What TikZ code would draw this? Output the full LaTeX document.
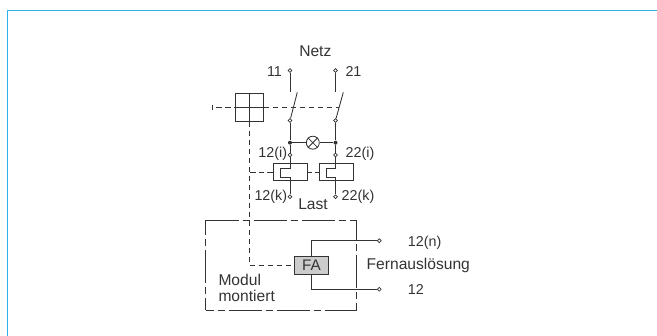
\documentclass[tikz,border=0pt]{standalone}
\usepackage{fontspec}
\setmainfont{Liberation Sans}
\definecolor{frameblue}{HTML}{2DB4E8}
\definecolor{inkc}{HTML}{333333}
\definecolor{fagray}{HTML}{CCCCCC}
\tikzset{x=1pt,y=-1pt,
 wire/.style={draw=inkc,line width=0.85pt},
 ctl/.style={draw=inkc,line width=0.85pt,dash pattern=on 5.5pt off 3.5pt},
 modbox/.style={draw=inkc,line width=0.85pt,dash pattern=on 33pt off 4pt on 7pt off 4pt},
 term/.style={circle,draw=inkc,fill=white,line width=0.7pt,inner sep=0pt,minimum size=3.8pt},
 junct/.style={circle,fill=inkc,inner sep=0pt,minimum size=4pt},
 lab/.style={inner sep=0pt,text=inkc,anchor=base,font=\fontsize{15.6}{17}\selectfont},
 labl/.style={lab,anchor=base west},
 numl/.style={inner sep=0pt,text=inkc,anchor=base,font=\fontsize{14.3}{17}\selectfont},
 relay/.style={draw=inkc,line width=0.85pt,minimum width=34pt,minimum height=17.4pt,inner sep=0pt},
}
\begin{document}
\begin{tikzpicture}
\useasboundingbox (0,0) rectangle (657,336);
\draw[frameblue,line width=1.4pt] (7.5,336) -- (7.5,10.5) -- (657,10.5);
% labels
\node[lab] (lnetz) at (315.3,56.5) {Netz};
\node[numl] (l11) at (274.5,77) {11};
\node[numl] (l21) at (353.5,77) {21};
\node[numl] (l12i) at (272.8,158) {12(i)};
\node[numl] (l22i) at (360,158) {22(i)};
\node[numl] (l12k) at (270.8,200.5) {12(k)};
\node[numl] (l22k) at (358,200.5) {22(k)};
\node[lab] (llast) at (313,209.5) {Last};
\node[labl] (lmod) at (218.3,285.5) {Modul};
\node[labl] (lmon) at (218.3,301.5) {montiert};
\node[numl,anchor=base west] (l12n) at (407.7,246.5) {12(n)};
\node[labl] (lfern) at (366.5,269.5) {Fernauslösung};
\node[numl,anchor=base west] (l12) at (407.7,295) {12};
% terminals
\node[term] (t11) at (290,70.5) {};
\node[term] (t21) at (335.5,70.5) {};
\node[term] (s1) at (290,120.5) {};
\node[term] (s2) at (335.5,120.5) {};
\node[term] (i1) at (290,155) {};
\node[term] (i2) at (335.5,155) {};
\node[term] (k1) at (290,196.7) {};
\node[term] (k2) at (335.5,196.7) {};
\node[junct] (j1) at (290,142.7) {};
\node[junct] (j2) at (335.5,142.7) {};
\node[circle,draw=inkc,line width=0.85pt,minimum size=13pt,inner sep=0pt] (lamp) at (312.8,142.7) {};
\draw[wire] (lamp.north west) -- (lamp.south east) (lamp.north east) -- (lamp.south west);
\coordinate (o1) at (290,92);
\coordinate (o2) at (335.5,92);
\coordinate (b1) at (297.3,92.3);
\coordinate (b2) at (343.3,92.3);
% switch wires
\draw[wire] (t11) -- (o1);
\draw[wire] (t21) -- (o2);
\draw[wire] (s1) -- (b1);
\draw[wire] (s2) -- (b2);
\draw[wire] (s1) -- (j1) -- (i1);
\draw[wire] (s2) -- (j2) -- (i2);
\draw[wire] (j1) -- (lamp) (lamp) -- (j2);
% handle box
\node[draw=inkc,line width=0.85pt,minimum width=27.6pt,minimum height=27.4pt,inner sep=0pt] (h) at (249.5,107.5) {};
\draw[wire] (h.north) -- (h.south) (h.west) -- (h.east);
\coordinate (hr) at (338.5,107.5);
\draw[wire] (212,105) -- (212,110);
\draw[ctl] (216,107.5) -- (h.west);
\draw[ctl] (h.east) -- (hr);
% relays
\node[relay] (r1) at (290.3,172) {};
\node[relay] (r2) at (336.2,172) {};
\draw[wire] (i1) -- (290,168.3) -- (280.7,168.3) -- (280.7,177.3) -- (290,177.3) -- (k1);
\draw[wire] (i2) -- (335.5,168.3) -- (326.5,168.3) -- (326.5,177.3) -- (335.5,177.3) -- (k2);
\draw[ctl,dash pattern=on 4pt off 3pt] (r1.east) -- (r2.west);
% FA
\node[draw=inkc,fill=fagray,line width=0.85pt,minimum width=34.4pt,minimum height=17.6pt,inner sep=0pt,text=inkc,font=\fontsize{15.3}{17}\selectfont] (fa) at (311.5,265.5) {FA};
\draw[ctl] (h.south) -- (249.5,265.5) -- (fa.west);
\draw[ctl,dash pattern=on 5.5pt off 3pt] (r1.west) -- (249.5,172);
% module box
\coordinate (mtl) at (205.5,220.5);
\coordinate (mtr) at (356.5,220.5);
\coordinate (mbl) at (205.5,310.5);
\coordinate (mbr) at (356.5,310.5);
\draw[modbox] (mtl) -- (mtr);
\draw[modbox,dash phase=18pt] (mtl) -- (mbl);
\draw[modbox,dash phase=13pt] (mtr) -- (mbr);
\draw[modbox,dash phase=25pt] (mbl) -- (mbr);
% remote wires
\node[term] (tn) at (379.3,240.7) {};
\node[term] (tp) at (379.3,289.3) {};
\draw[wire] (311.3,256.7) -- (311.3,240.7) -- (tn);
\draw[wire] (311.3,274.3) -- (311.3,289.3) -- (tp);
\end{tikzpicture}
\end{document}
